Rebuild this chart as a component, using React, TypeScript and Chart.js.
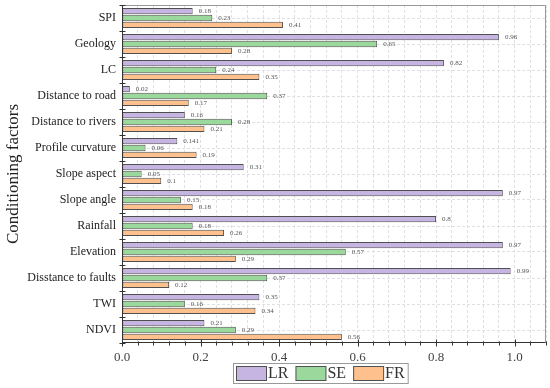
import React, { useEffect, useRef } from 'react';
import { Chart, registerables } from 'chart.js';

Chart.register(...registerables);

const categories = [
  'SPI',
  'Geology',
  'LC',
  'Distance to road',
  'Distance to rivers',
  'Profile curvature',
  'Slope aspect',
  'Slope angle',
  'Rainfall',
  'Elevation',
  'Disstance to faults',
  'TWI',
  'NDVI',
];
const lrValues = [0.18, 0.96, 0.82, 0.02, 0.16, 0.141, 0.31, 0.97, 0.8, 0.97, 0.99, 0.35, 0.21];
const seValues = [0.23, 0.65, 0.24, 0.37, 0.28, 0.06, 0.05, 0.15, 0.18, 0.57, 0.37, 0.16, 0.29];
const frValues = [0.41, 0.28, 0.35, 0.17, 0.21, 0.19, 0.1, 0.18, 0.26, 0.29, 0.12, 0.34, 0.56];
const seriesNames = ['LR', 'SE', 'FR'];
const xMin = 0;
const xMax = 1.08;
const xMinorStep = 0.04;
const xMajorStep = 0.2;
const yTitle = 'Conditioning factors';

const FONT = "'Liberation Serif', 'Times New Roman', Times, serif";
const COLORS = ['#c6b4e2', '#9ad89b', '#fec08d'];
const BAR_BORDER = '#505050';

const isMajor = (v: number) => Math.abs(v / xMajorStep - Math.round(v / xMajorStep)) < 1e-6;

const decorPlugin = {
  id: 'decor',
  afterDatasetsDraw(chart: any) {
    const ctx = chart.ctx;
    ctx.save();
    ctx.font = `7px ${FONT}`;
    ctx.fillStyle = '#555';
    ctx.textBaseline = 'middle';
    ctx.textAlign = 'left';
    chart.data.datasets.forEach((ds: any, di: number) => {
      const meta = chart.getDatasetMeta(di);
      meta.data.forEach((el: any, i: number) => {
        ctx.fillText(String(ds.data[i]), el.x + 6, el.y + 0.5);
      });
    });
    ctx.restore();
  },
  afterDraw(chart: any) {
    const { ctx, chartArea: a } = chart;
    const L = Math.round(a.left) + 0.5;
    const R = Math.round(a.right) - 0.5;
    const T = Math.round(a.top) + 0.5;
    const B = Math.round(a.bottom) - 0.5;
    ctx.save();
    ctx.lineWidth = 1;
    ctx.strokeStyle = '#999';
    ctx.beginPath();
    ctx.moveTo(L, T);
    ctx.lineTo(R, T);
    ctx.lineTo(R, B);
    ctx.stroke();
    ctx.strokeStyle = '#333';
    ctx.beginPath();
    ctx.moveTo(L, T);
    ctx.lineTo(L, B);
    ctx.lineTo(R, B);
    ctx.stroke();

    const xs = chart.scales.x;
    xs.ticks.forEach((t: any) => {
      const px = Math.round(xs.getPixelForValue(t.value)) + 0.5;
      const major = isMajor(t.value);
      ctx.beginPath();
      ctx.moveTo(px, B - (major ? 3 : 1));
      ctx.lineTo(px, B + (major ? 4 : 3));
      ctx.stroke();
    });
    const ys = chart.scales.y;
    const n = chart.data.labels.length;
    for (let i = 0; i <= n; i++) {
      const py = Math.round(ys.getPixelForValue(i - 0.5)) + 0.5;
      ctx.beginPath();
      ctx.moveTo(L - 3, py);
      ctx.lineTo(L + 3, py);
      ctx.stroke();
    }

    // legend
    const boxW = 30;
    const boxH = 14;
    const gap = 2;
    const itemGap = 7;
    const pad = 3;
    ctx.font = `16px ${FONT}`;
    const widths = chart.data.datasets.map((ds: any) => boxW + gap + ctx.measureText(ds.label).width);
    const total = widths.reduce((s: number, w: number) => s + w, 0) + itemGap * (widths.length - 1);
    const lx = 233;
    const ly = 363;
    ctx.strokeStyle = '#999';
    ctx.fillStyle = '#fff';
    ctx.fillRect(lx + 0.5, ly + 0.5, total + pad * 2, boxH + 6);
    ctx.strokeRect(lx + 0.5, ly + 0.5, total + pad * 2, boxH + 6);
    let cx = lx + pad;
    chart.data.datasets.forEach((ds: any, i: number) => {
      ctx.fillStyle = ds.backgroundColor;
      ctx.fillRect(cx + 0.5, ly + 3.5, boxW, boxH);
      ctx.strokeStyle = BAR_BORDER;
      ctx.strokeRect(cx + 0.5, ly + 3.5, boxW, boxH);
      ctx.fillStyle = '#333';
      ctx.textBaseline = 'middle';
      ctx.textAlign = 'left';
      ctx.fillText(ds.label, cx + boxW + gap, ly + 11);
      cx += widths[i] + itemGap;
    });
    ctx.restore();
  },
};

export default function App() {
  const canvasRef = useRef<HTMLCanvasElement | null>(null);

  useEffect(() => {
    document.body.style.margin = '0';
    const canvas = canvasRef.current;
    if (!canvas) return;
    const seriesValues = [lrValues, seValues, frValues];
    const chart = new Chart(canvas, {
      type: 'bar',
      data: {
        labels: categories,
        datasets: seriesNames.map((name, i) => ({
          label: name,
          data: seriesValues[i],
          backgroundColor: COLORS[i],
          borderColor: BAR_BORDER,
          borderWidth: 1,
          borderSkipped: false,
          categoryPercentage: 0.8,
          barPercentage: 0.92,
        })),
      },
      options: {
        indexAxis: 'y',
        responsive: false,
        animation: false,
        devicePixelRatio: 1,
        layout: { padding: { left: 0, right: 4, top: 5, bottom: 25 } },
        plugins: {
          legend: { display: false },
          tooltip: { enabled: false },
        },
        scales: {
          x: {
            type: 'linear',
            min: xMin,
            max: xMax,
            afterFit: (s: any) => {
              s.height = 20;
              s.paddingLeft = 0;
              s.paddingRight = 0;
            },
            ticks: {
              stepSize: xMinorStep,
              autoSkip: false,
              maxRotation: 0,
              padding: 7,
              color: '#444',
              font: { family: FONT, size: 13 },
              callback: (v: any) => (isMajor(Number(v)) ? Number(v).toFixed(1) : ''),
            },
            grid: {
              color: '#e0e0e0',
              lineWidth: 1,
              drawTicks: false,
            },
            border: { display: false, dash: [3, 2] },
          },
          y: {
            type: 'category',
            afterFit: (s: any) => {
              s.width = 122;
              s.paddingTop = 0;
              s.paddingBottom = 0;
            },
            ticks: {
              padding: 6,
              color: '#222',
              font: { family: FONT, size: 12 },
              autoSkip: false,
            },
            grid: {
              offset: false,
              color: '#e0e0e0',
              lineWidth: 1,
              drawTicks: false,
            },
            border: { display: false, dash: [3, 2] },
            title: {
              display: true,
              text: yTitle,
              color: '#222',
              font: { family: FONT, size: 17 },
              padding: { top: 3, bottom: 0 },
            },
          },
        },
      },
      plugins: [decorPlugin],
    });
    return () => chart.destroy();
  }, []);

  return (
    <div style={{ width: 550, height: 388, background: '#fff' }}>
      <canvas ref={canvasRef} width={550} height={388} style={{ display: 'block' }} />
    </div>
  );
}
